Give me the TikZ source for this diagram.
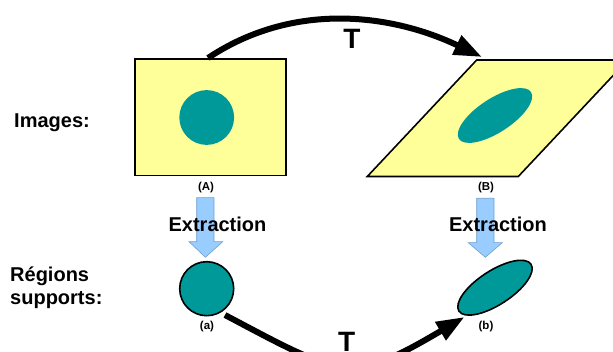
\documentclass[tikz,border=0pt]{standalone}
\usepackage{fontspec}
\setmainfont{Liberation Sans}
\usetikzlibrary{arrows.meta}
\definecolor{imgyellow}{HTML}{FFFF99}
\definecolor{regteal}{HTML}{009999}
\definecolor{extblue}{HTML}{99CCFF}
\definecolor{extborder}{HTML}{6F9FCF}
\tikzset{
  lbl/.style={font=\bfseries\fontsize{20}{23.3}\selectfont, inner sep=0pt, align=left},
  small/.style={font=\bfseries\fontsize{11.5}{12}\selectfont, inner sep=0pt},
  tlabel/.style={font=\bfseries\fontsize{28}{30}\selectfont, inner sep=0pt},
  image/.style={draw=black, line width=1.6pt, fill=imgyellow},
  region/.style={fill=regteal},
  regionout/.style={fill=regteal, draw=black, line width=1.6pt},
  extarrow/.style={fill=extblue, draw=extborder, line width=0.6pt},
  tarrow/.style={line width=6pt, -{Triangle[length=28pt,width=20pt]}}
}
\begin{document}
\begin{tikzpicture}[x=1pt,y=-1pt]
\useasboundingbox (0,0) rectangle (613,352);
\clip (0,0) rectangle (613,352);
% image A
\node[image, minimum width=150.7pt, minimum height=116.4pt, inner sep=0pt] (A) at (210.4,117.5) {};
\fill[region] (206.7,117.5) circle (27.4);
% image B
\coordinate (Bbl) at (367.3,176.5);
\coordinate (Bbr) at (518.3,176.5);
\coordinate (Btr) at (627.7,60);
\coordinate (Btl) at (476.7,60);
\draw[image] (Bbl) -- (Bbr) -- (Btr) -- (Btl) -- cycle;
\fill[region, rotate around={33:(495,115.5)}] (495,115.5) ellipse (43 and 17);
% labels
\node[small] (labA) at (206,188) {(A)};
\node[small] (labB) at (486,188) {(B)};
\node[small] (laba) at (207,327) {(a)};
\node[small] (labb) at (486,327) {(b)};
% extraction arrows
\draw[extarrow] (196.7,197.7) -- (214,197.7) -- (214,241.7) -- (222.7,241.7) -- (205.4,257.3) -- (189,241.7) -- (196.7,241.7) -- cycle;
\draw[extarrow] (476.7,198.3) -- (494,198.3) -- (494,242.7) -- (502.3,242.7) -- (485.3,257.3) -- (468.3,242.7) -- (476.7,242.7) -- cycle;
\node[lbl] (ext1) at (217.5,224) {Extraction};
\node[lbl] (ext2) at (498,224) {Extraction};
% regions
\node[regionout, circle, minimum size=54pt, inner sep=0pt] (a) at (206.7,288.7) {};
\draw[regionout, rotate around={33:(495,287.7)}] (495,287.7) ellipse (43 and 17);
\coordinate (b) at (495,287.7);
% left labels
\node[lbl, anchor=west] (images) at (14,122.5) {Images:};
\node[lbl, anchor=north west] (regions) at (10,266.5) {Régions\\supports:};
% T arrows
\coordinate (s1) at (208,58);
\coordinate (e1) at (482,57);
\draw[tarrow] (s1) .. controls (293,1.4) and (390.6,13.5) .. (e1);
\node[tlabel] (T1) at (352,38.5) {T};
\coordinate (s2) at (225,315);
\coordinate (e2) at (464.5,317);
\draw[tarrow] (s2) .. controls (344,378) and (350,384.5) .. (e2);
\node[tlabel] (T2) at (346.7,342) {T};
\end{tikzpicture}
\end{document}
